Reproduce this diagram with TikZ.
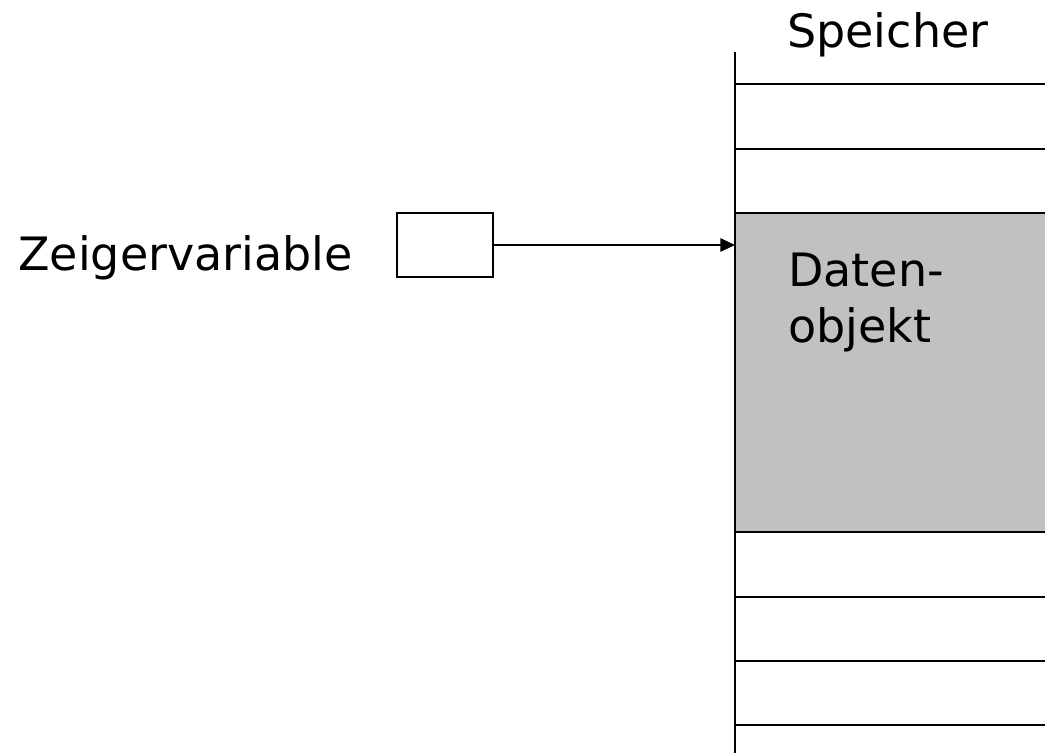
\documentclass[tikz,border=0pt]{standalone}
\usepackage{fontspec}
\setmainfont{DejaVu Sans}
\usetikzlibrary{arrows.meta}
\definecolor{objgrau}{RGB}{192,193,192}
\tikzset{zeigerbox/.style={draw, line width=1.5pt, inner sep=0, minimum width=72pt, minimum height=48pt}}
\tikzset{datenobjekt/.style={fill=objgrau, inner sep=0, minimum width=232.5pt, minimum height=239.25pt, anchor=north west}}
\tikzset{beschriftung/.style={inner sep=0, anchor=base west, font=\fontsize{34.5}{42}\selectfont}}
\tikzset{zelle/.style={line width=1.9pt}}
\tikzset{every edge/.style={draw, line width=1.3pt}}

\begin{document}
\begin{tikzpicture}[x=0.75pt, y=-0.75pt]
  \useasboundingbox (0,0) rectangle (1045,753);

  \node[datenobjekt] at (735,213) (obj) {};
  \node[beschriftung, align=left] at (788,342) (objtext) {Daten-\\objekt};

  % Speicherzellen
  \foreach \y in {84,149,213,532,597,661,725}
    \draw[zelle] (735,\y) -- (1045,\y);
  \coordinate (oben) at (735,52);
  \coordinate (unten) at (735,753);
  \draw[zelle, line width=2.2pt] (oben) -- (unten);
  \node[beschriftung] at (787,47) (speicher) {Speicher};

  \node[beschriftung] at (18,270) (zvtext) {Zeigervariable};
  \node[zeigerbox] at (445,245) (zeiger) {};

  \draw (zeiger) edge[-{Triangle[length=11pt,width=10pt]}] (zeiger -| obj.west);
\end{tikzpicture}
\end{document}
